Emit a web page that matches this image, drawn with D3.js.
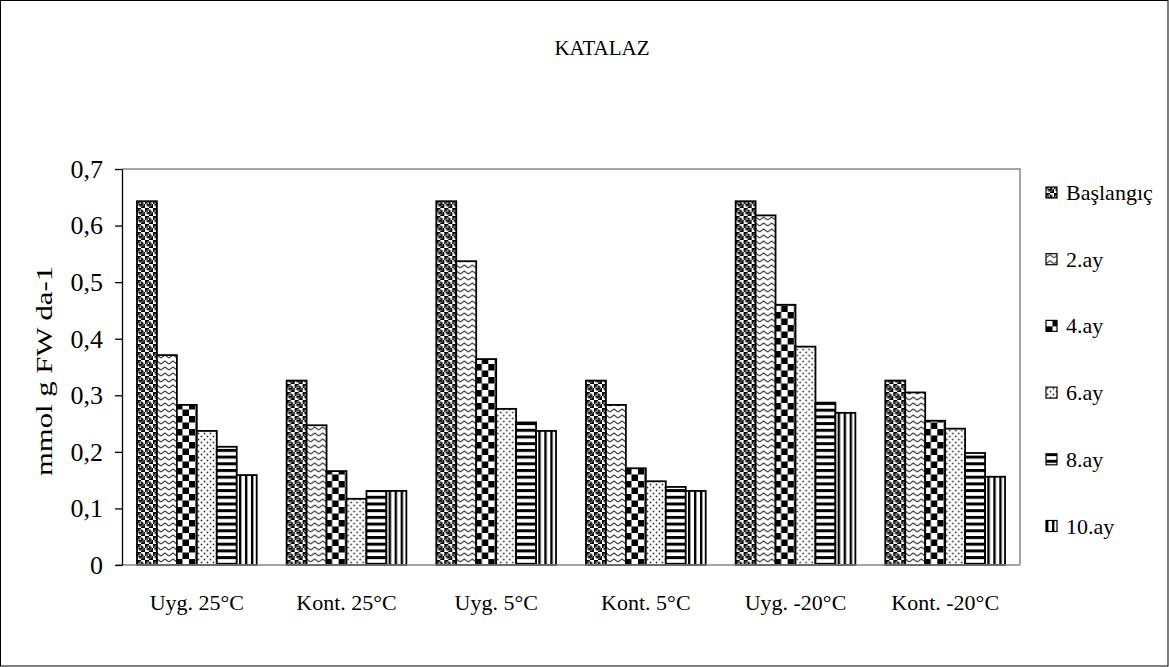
<!DOCTYPE html>
<html>
<head>
<meta charset="utf-8">
<script src="https://cdn.jsdelivr.net/npm/d3@7"></script>
<style>
  html, body { margin: 0; padding: 0; background: #fff; }
  svg { display: block; font-family: "Liberation Serif", "Times New Roman", serif; }
</style>
</head>
<body>
<svg id="chart" width="1169" height="667"></svg>
<script>
// Catalase activity per storage treatment and month
const categories = ["Uyg. 25°C", "Kont. 25°C", "Uyg. 5°C", "Kont. 5°C", "Uyg. -20°C", "Kont. -20°C"];
const seriesNames = ["Başlangıç", "2.ay", "4.ay", "6.ay", "8.ay", "10.ay"];
const baslangic = [0.643, 0.326, 0.643, 0.326, 0.643, 0.326];
const ay2 = [0.371, 0.247, 0.537, 0.283, 0.618, 0.305];
const ay4 = [0.283, 0.166, 0.364, 0.171, 0.460, 0.255];
const ay6 = [0.237, 0.117, 0.276, 0.148, 0.386, 0.241];
const ay8 = [0.209, 0.131, 0.252, 0.138, 0.287, 0.198];
const ay10 = [0.159, 0.131, 0.237, 0.131, 0.269, 0.156];
const yTicks = [0, 0.1, 0.2, 0.3, 0.4, 0.5, 0.6, 0.7];
const yTickLabels = ["0", "0,1", "0,2", "0,3", "0,4", "0,5", "0,6", "0,7"];

const seriesValues = [baslangic, ay2, ay4, ay6, ay8, ay10];

const svg = d3.select("#chart");
const W = 1169, H = 667;
const plot = { left: 122, right: 1020, top: 169, bottom: 565 };
const serif = "Liberation Serif, Times New Roman, serif";

// Fill patterns for each series
const defs = svg.append("defs");
function pat(id, w, h) {
  return defs.append("pattern").attr("id", id).attr("patternUnits", "userSpaceOnUse")
    .attr("width", w).attr("height", h);
}
// spheres
{
  const p = pat("p0", 8, 8);
  p.append("rect").attr("width", 8).attr("height", 8).attr("fill", "#fff");
  p.append("rect").attr("x", 0).attr("y", 0).attr("width", 4).attr("height", 4).attr("fill", "#000");
  p.append("rect").attr("x", 4).attr("y", 4).attr("width", 4).attr("height", 4).attr("fill", "#000");
  p.append("circle").attr("cx", 4).attr("cy", 4).attr("r", 2.6).attr("fill", "#111").attr("stroke", "#888").attr("stroke-width", 0.8);
  p.append("circle").attr("cx", 3.3).attr("cy", 3.2).attr("r", 0.9).attr("fill", "#bbb");
}
// zigzag
{
  const p = pat("p1", 8, 6);
  p.append("rect").attr("width", 8).attr("height", 6).attr("fill", "#fff");
  p.append("path").attr("d", "M0,4 L4,1 L8,4").attr("fill", "none").attr("stroke", "#444").attr("stroke-width", 1.3);
}
// checkerboard
{
  const p = pat("p2", 13, 13);
  p.append("rect").attr("width", 13).attr("height", 13).attr("fill", "#fff");
  p.append("rect").attr("width", 6.5).attr("height", 6.5).attr("fill", "#000");
  p.append("rect").attr("x", 6.5).attr("y", 6.5).attr("width", 6.5).attr("height", 6.5).attr("fill", "#000");
}
// dots
{
  const p = pat("p3", 6, 6);
  p.append("rect").attr("width", 6).attr("height", 6).attr("fill", "#fff");
  p.append("circle").attr("cx", 1.5).attr("cy", 1.5).attr("r", 0.9).attr("fill", "#333");
  p.append("circle").attr("cx", 4.5).attr("cy", 4.5).attr("r", 0.9).attr("fill", "#333");
}
// horizontal stripes
{
  const p = pat("p4", 6, 6.7);
  p.append("rect").attr("width", 6).attr("height", 6.7).attr("fill", "#fff");
  p.append("rect").attr("y", 0).attr("width", 6).attr("height", 3).attr("fill", "#000");
}
// vertical stripes
{
  const p = pat("p5", 6, 6);
  p.append("rect").attr("width", 6).attr("height", 6).attr("fill", "#fff");
  p.append("rect").attr("x", 0).attr("width", 2.4).attr("height", 6).attr("fill", "#000");
}

// Outer frame
svg.append("rect").attr("x", 0.5).attr("y", 0.5).attr("width", W - 1.5).attr("height", H - 1.5)
  .attr("fill", "#fff").attr("stroke", "#000").attr("stroke-width", 1);

// Title
svg.append("text").attr("x", 602).attr("y", 55).attr("text-anchor", "middle")
  .attr("font-size", 21).text("KATALAZ");

// Scales
const x0 = d3.scaleBand().domain(categories).range([plot.left, plot.right])
  .paddingInner(0.2).paddingOuter(0.1);
const x1 = d3.scaleBand().domain(seriesNames).range([0, x0.bandwidth()]);
const y = d3.scaleLinear().domain([0, 0.7]).range([plot.bottom, plot.top]);

// Plot area border (top and right)
svg.append("path")
  .attr("d", `M${plot.left},${plot.top}H${plot.right}V${plot.bottom}`)
  .attr("fill", "none").attr("stroke", "#888").attr("stroke-width", 1.5);

// Bars
const groups = svg.append("g").selectAll("g").data(categories).join("g")
  .attr("transform", d => `translate(${x0(d)},0)`);
groups.selectAll("rect")
  .data((c, ci) => seriesNames.map((s, si) => ({ s, si, v: seriesValues[si][ci] })))
  .join("rect")
  .attr("x", d => x1(d.s))
  .attr("y", d => y(d.v))
  .attr("width", x1.bandwidth())
  .attr("height", d => y(0) - y(d.v))
  .attr("fill", d => `url(#p${d.si})`)
  .attr("stroke", "#000").attr("stroke-width", 1.8);

// Category axis
svg.append("line").attr("x1", plot.left - 6).attr("x2", plot.right)
  .attr("y1", plot.bottom).attr("y2", plot.bottom)
  .attr("stroke", "#888").attr("stroke-width", 1.5);
const xAxis = svg.append("g").attr("transform", `translate(0,${plot.bottom})`)
  .call(d3.axisBottom(x0).tickSize(0).tickPadding(29));
xAxis.select(".domain").remove();
xAxis.selectAll("text").attr("font-size", 22).attr("fill", "#000").attr("font-family", serif);

// Value axis
const yAxis = svg.append("g").attr("transform", `translate(${plot.left},0)`)
  .call(d3.axisLeft(y).tickValues(yTicks).tickFormat((d, i) => yTickLabels[i])
    .tickSize(7).tickSizeOuter(0).tickPadding(12));
yAxis.select(".domain").attr("stroke", "#000").attr("stroke-width", 1.3);
yAxis.selectAll(".tick line").attr("stroke", "#000").attr("stroke-width", 1.3);
yAxis.selectAll("text").attr("font-size", 26).attr("fill", "#000").attr("font-family", serif);

// Axis title
svg.append("text")
  .attr("transform", `translate(52,${(plot.top + plot.bottom) / 2 + 4}) rotate(-90)`)
  .attr("text-anchor", "middle").attr("font-size", 24)
  .attr("textLength", 210).attr("lengthAdjust", "spacingAndGlyphs")
  .text("mmol g FW da-1");

// Legend
const legend = svg.append("g").selectAll("g").data(seriesNames).join("g")
  .attr("transform", (d, i) => `translate(1046,${193 + i * 66.7})`);
legend.append("rect").attr("x", 0).attr("y", -6).attr("width", 11).attr("height", 11)
  .attr("fill", (d, i) => `url(#p${i})`).attr("stroke", "#000").attr("stroke-width", 1.2);
legend.append("text").attr("x", 20).attr("y", 7).attr("font-size", 22).text(d => d);
</script>
</body>
</html>
